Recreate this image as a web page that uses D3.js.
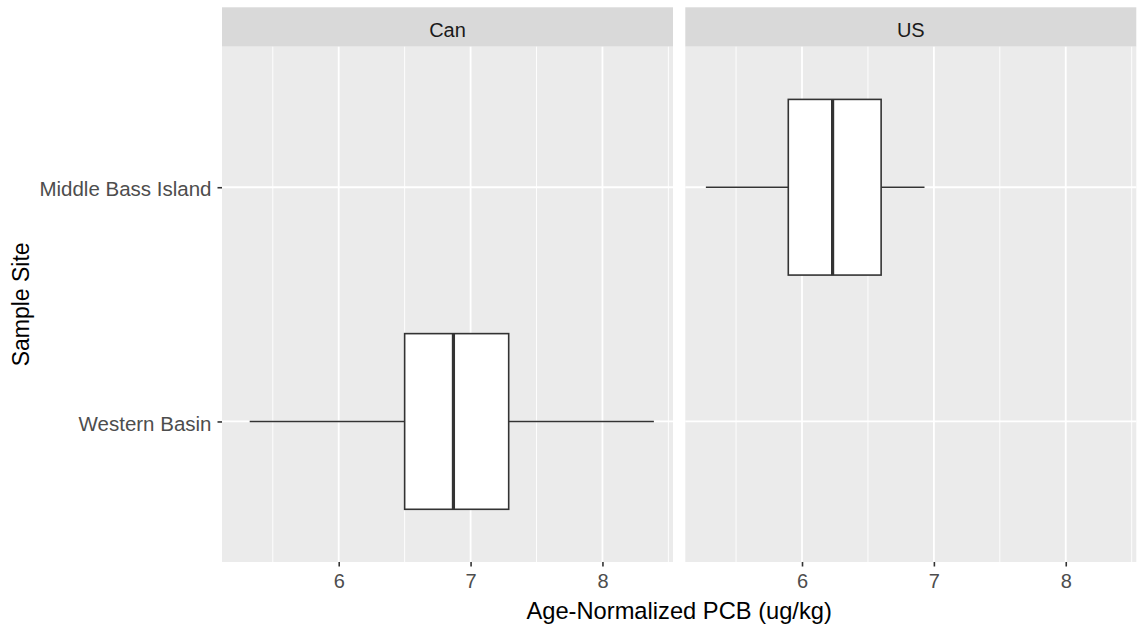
<!DOCTYPE html>
<html>
<head>
<meta charset="utf-8">
<script src="https://cdn.jsdelivr.net/npm/d3@7"></script>
<style>
  body { margin: 0; background: #fff; }
  text { font-family: "Liberation Sans", Arial, sans-serif; }
</style>
</head>
<body>
<div id="chart"></div>
<script>
// PCB boxplot, faceted by country /////////////////////////////////////////////

var facets = ['Can', 'US'];
var sites = ['Middle Bass Island', 'Western Basin'];
var xTicks = [6, 7, 8];
var xMinor = [5.5, 6.5, 7.5, 8.5];

// one row per box: facet, site, whisker low, q1, median, q3, whisker high
var boxFacet  = ['Can', 'US'];
var boxSite   = ['Western Basin', 'Middle Bass Island'];
var boxLow    = [5.325, 5.271];
var boxQ1     = [6.50, 5.896];
var boxMedian = [6.87, 6.232];
var boxQ3     = [7.289, 6.60];
var boxHigh   = [8.39, 6.929];

///////////////////////////////////////////////////////////////////////////////

var width = 1138, height = 625;
var panelTop = 46.7, panelBottom = 562;
var stripTop = 7.3;
var panelLeft = [222, 685.3];
var panelWidth = 451;

var svg = d3.select('#chart').append('svg')
  .attr('width', width)
  .attr('height', height);

var y = d3.scalePoint()
  .domain(sites)
  .range([panelTop, panelBottom])
  .padding(0.6);

var boxHeight = y.step() * 0.75;

var boxes = boxFacet.map(function(f, i) {
  return {facet: f, site: boxSite[i], low: boxLow[i], q1: boxQ1[i],
    median: boxMedian[i], q3: boxQ3[i], high: boxHigh[i]};
});

facets.forEach(function(facet, fi) {
  var x = d3.scaleLinear()
    .domain([5.115, 8.535])
    .range([panelLeft[fi], panelLeft[fi] + panelWidth]);

  var g = svg.append('g');

  // strip
  g.append('rect')
    .attr('x', panelLeft[fi])
    .attr('y', stripTop)
    .attr('width', panelWidth)
    .attr('height', panelTop - stripTop)
    .style('fill', '#D9D9D9');

  g.append('text')
    .attr('x', panelLeft[fi] + panelWidth / 2)
    .attr('y', 37.3)
    .attr('text-anchor', 'middle')
    .style('font-size', '20px')
    .style('fill', '#1A1A1A')
    .text(facet);

  // panel background
  g.append('rect')
    .attr('x', panelLeft[fi])
    .attr('y', panelTop)
    .attr('width', panelWidth)
    .attr('height', panelBottom - panelTop)
    .style('fill', '#EBEBEB');

  // minor grid
  g.append('g').selectAll('line')
    .data(xMinor)
    .enter().append('line')
    .attr('x1', function(d){ return x(d); })
    .attr('x2', function(d){ return x(d); })
    .attr('y1', panelTop)
    .attr('y2', panelBottom)
    .style('stroke', '#fff')
    .style('stroke-width', 0.9);

  // major grid
  g.append('g').selectAll('line')
    .data(xTicks)
    .enter().append('line')
    .attr('x1', function(d){ return x(d); })
    .attr('x2', function(d){ return x(d); })
    .attr('y1', panelTop)
    .attr('y2', panelBottom)
    .style('stroke', '#fff')
    .style('stroke-width', 1.8);

  g.append('g').selectAll('line')
    .data(sites)
    .enter().append('line')
    .attr('x1', panelLeft[fi])
    .attr('x2', panelLeft[fi] + panelWidth)
    .attr('y1', function(d){ return y(d); })
    .attr('y2', function(d){ return y(d); })
    .style('stroke', '#fff')
    .style('stroke-width', 1.8);

  // boxes
  var b = g.append('g').selectAll('g')
    .data(boxes.filter(function(d){ return d.facet === facet; }))
    .enter().append('g');

  b.append('line')
    .attr('x1', function(d){ return x(d.low); })
    .attr('x2', function(d){ return x(d.q1); })
    .attr('y1', function(d){ return y(d.site); })
    .attr('y2', function(d){ return y(d.site); })
    .style('stroke', '#333')
    .style('stroke-width', 1.6);

  b.append('line')
    .attr('x1', function(d){ return x(d.q3); })
    .attr('x2', function(d){ return x(d.high); })
    .attr('y1', function(d){ return y(d.site); })
    .attr('y2', function(d){ return y(d.site); })
    .style('stroke', '#333')
    .style('stroke-width', 1.6);

  b.append('rect')
    .attr('x', function(d){ return x(d.q1); })
    .attr('width', function(d){ return x(d.q3) - x(d.q1); })
    .attr('y', function(d){ return y(d.site) - boxHeight / 2; })
    .attr('height', boxHeight)
    .style('fill', '#fff')
    .style('stroke', '#333')
    .style('stroke-width', 1.6);

  b.append('line')
    .attr('x1', function(d){ return x(d.median); })
    .attr('x2', function(d){ return x(d.median); })
    .attr('y1', function(d){ return y(d.site) - boxHeight / 2; })
    .attr('y2', function(d){ return y(d.site) + boxHeight / 2; })
    .style('stroke', '#333')
    .style('stroke-width', 3.2);

  // x axis
  var xAxis = g.append('g')
    .attr('transform', 'translate(0,' + panelBottom + ')')
    .call(d3.axisBottom(x).tickValues(xTicks).tickSize(4.5).tickPadding(7).tickFormat(d3.format('d')));
  xAxis.select('.domain').remove();
  xAxis.selectAll('line').style('stroke', '#333').style('stroke-width', 1.6);
  xAxis.selectAll('text')
    .style('font-size', '20px')
    .style('fill', '#4D4D4D')
    .style('font-family', '"Liberation Sans", Arial, sans-serif');
});

// y axis
var yAxis = svg.append('g')
  .attr('transform', 'translate(' + panelLeft[0] + ',0)')
  .call(d3.axisLeft(y).tickSize(4.5).tickPadding(6));
yAxis.select('.domain').remove();
yAxis.selectAll('line').style('stroke', '#333').style('stroke-width', 1.6);
yAxis.selectAll('text')
  .attr('dy', '0.42em')
  .style('font-size', '20.5px')
  .style('fill', '#4D4D4D')
  .style('font-family', '"Liberation Sans", Arial, sans-serif');

// titles
svg.append('text')
  .attr('x', (panelLeft[0] + panelLeft[1] + panelWidth) / 2)
  .attr('y', 618.5)
  .attr('text-anchor', 'middle')
  .style('font-size', '23.7px')
  .style('fill', '#000')
  .text('Age-Normalized PCB (ug/kg)');

svg.append('text')
  .attr('transform', 'translate(28.5,' + (panelTop + panelBottom) / 2 + ') rotate(-90)')
  .attr('text-anchor', 'middle')
  .style('font-size', '23px')
  .style('fill', '#000')
  .text('Sample Site');
</script>
</body>
</html>
